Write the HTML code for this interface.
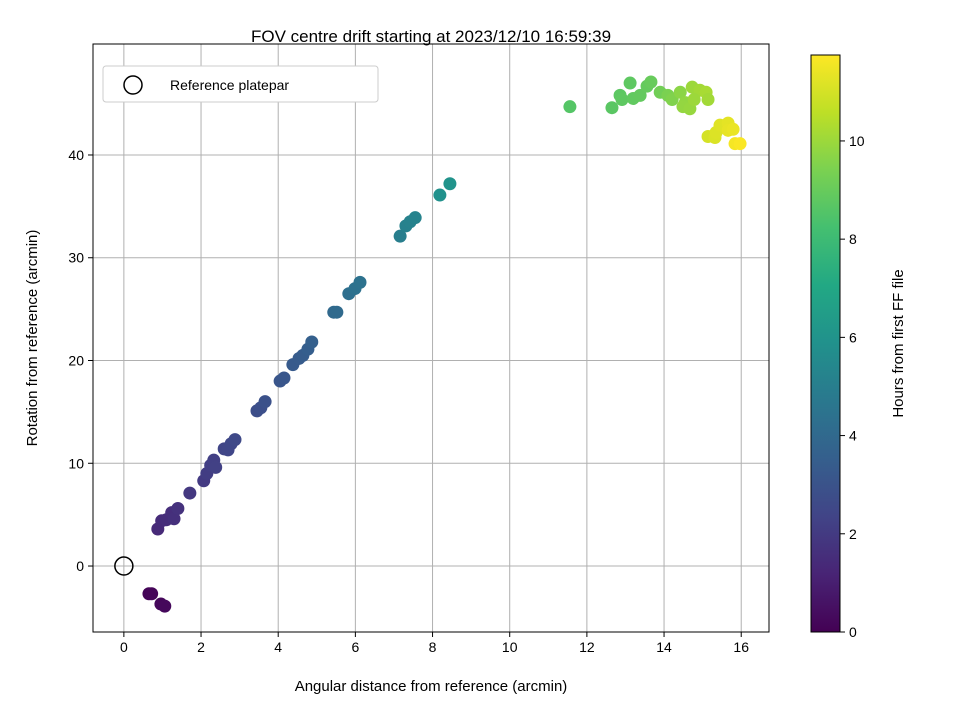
<!DOCTYPE html>
<html><head><meta charset="utf-8"><style>body{margin:0;background:#fff}svg{display:block;font-family:"Liberation Sans",sans-serif}</style></head>
<body>
<svg id="c" width="960" height="720">
<defs><linearGradient id="vir" x1="0" y1="1" x2="0" y2="0">
<stop offset="0" stop-color="#440154"/><stop offset="0.1" stop-color="#482475"/><stop offset="0.2" stop-color="#414487"/><stop offset="0.3" stop-color="#355f8d"/><stop offset="0.4" stop-color="#2a788e"/><stop offset="0.5" stop-color="#21918c"/><stop offset="0.6" stop-color="#22a884"/><stop offset="0.7" stop-color="#44bf70"/><stop offset="0.8" stop-color="#7ad151"/><stop offset="0.9" stop-color="#bddf26"/><stop offset="1" stop-color="#fde725"/></linearGradient></defs>
</svg>
<script>
const xs=[0.65,0.72,0.96,1.06,0.88,0.98,1.1,1.24,1.3,1.4,1.71,2.07,2.15,2.25,2.33,2.38,2.6,2.7,2.78,2.88,3.45,3.55,3.66,4.05,4.15,4.38,4.54,4.64,4.77,4.87,5.44,5.52,5.83,5.99,6.12,7.16,7.31,7.42,7.55,8.19,8.45,11.56,12.65,12.86,13.12,12.91,13.2,13.38,13.56,13.66,13.9,14.1,14.21,14.42,14.55,14.49,14.67,14.73,14.93,15.09,15.14,14.78,15.14,15.32,15.35,15.45,15.66,15.66,15.79,15.84,15.97];
const ys=[-2.7,-2.7,-3.7,-3.9,3.6,4.4,4.5,5.2,4.6,5.6,7.1,8.3,9.0,9.8,10.3,9.6,11.4,11.3,11.9,12.3,15.1,15.4,16.0,18.0,18.3,19.6,20.2,20.5,21.1,21.8,24.7,24.7,26.5,27.0,27.6,32.1,33.1,33.5,33.9,36.1,37.2,44.7,44.6,45.8,47.0,45.4,45.5,45.8,46.7,47.1,46.1,45.8,45.4,46.1,45.1,44.7,44.5,46.6,46.3,46.1,45.4,45.4,41.8,41.7,42.2,42.9,43.1,42.4,42.5,41.1,41.1];
const hrs=[0.1,0.15,0.2,0.25,1.4,1.45,1.5,1.55,1.6,1.7,1.9,2.0,2.1,2.15,2.2,2.25,2.4,2.45,2.5,2.55,2.8,2.85,2.9,3.1,3.15,3.3,3.35,3.4,3.5,3.55,4.0,4.05,4.3,4.35,4.4,5.0,5.1,5.15,5.2,5.9,6.0,8.6,8.7,8.75,8.8,8.8,8.85,8.9,8.95,9.0,9.2,9.4,9.5,9.7,9.8,9.85,9.9,10.0,10.1,10.2,10.1,10.0,11.0,11.1,11.15,11.2,11.3,11.35,11.4,11.6,11.7];
const xTicks=[0,2,4,6,8,10,12,14,16];
const yTicks=[0,10,20,30,40];
const cTicks=[0,2,4,6,8,10];
const svg=document.getElementById('c');const NS='http://www.w3.org/2000/svg';
const L=93,R=769,T=44,B=632,xmin=-0.8,xmax=16.72,ymin=-6.42,ymax=50.8,cmax=11.75,CT=55,CB=632;
const X=v=>L+(v-xmin)/(xmax-xmin)*(R-L), Y=v=>B-(v-ymin)/(ymax-ymin)*(B-T), CY=v=>CB-v/cmax*(CB-CT);
function el(t,a,txt){const e=document.createElementNS(NS,t);for(const k in a)e.setAttribute(k,a[k]);if(txt!=null)e.textContent=txt;svg.appendChild(e);return e;}
const vir=[[68,1,84],[72,36,117],[65,68,135],[53,95,141],[42,120,142],[33,145,140],[34,168,132],[68,191,112],[122,209,81],[189,223,38],[253,231,37]];
function col(h){let t=Math.max(0,Math.min(1,h/cmax))*(vir.length-1);let i=Math.min(vir.length-2,Math.floor(t)),f=t-i;const c=vir[i].map((v,k)=>Math.round(v+(vir[i+1][k]-v)*f));return `rgb(${c})`;}
let g;
xTicks.forEach(v=>{g=el('line',{x1:X(v),x2:X(v),y1:T,y2:B,stroke:'#b0b0b0','stroke-width':1});
g=el('line',{x1:X(v),x2:X(v),y1:B,y2:B+5,stroke:'#000'});
g=el('text',{x:X(v),y:B+20,'text-anchor':'middle','font-size':'14'},v);});
yTicks.forEach(v=>{g=el('line',{x1:L,x2:R,y1:Y(v),y2:Y(v),stroke:'#b0b0b0','stroke-width':1});
g=el('line',{x1:L-5,x2:L,y1:Y(v),y2:Y(v),stroke:'#000'});
g=el('text',{x:L-9,y:Y(v)+5,'text-anchor':'end','font-size':'14'},v);});
xs.forEach((x,i)=>{g=el('circle',{cx:X(x),cy:Y(ys[i]),r:6.5,fill:col(hrs[i])});});
g=el('circle',{cx:X(0),cy:Y(0),r:9,fill:'none',stroke:'#000','stroke-width':1.5});
g=el('rect',{x:L,y:T,width:R-L,height:B-T,fill:'none',stroke:'#000','stroke-width':1});
g=el('rect',{x:103,y:66,width:275,height:36,rx:3,fill:'#fff',stroke:'#ccc'});
g=el('circle',{cx:133,cy:85,r:9,fill:'none',stroke:'#000','stroke-width':1.5});
g=el('text',{x:170,y:90,'font-size':'14'},'Reference platepar');
g=el('text',{x:431,y:42,'text-anchor':'middle','font-size':'17'},'FOV centre drift starting at 2023/12/10 16:59:39');
g=el('text',{x:431,y:691,'text-anchor':'middle','font-size':'15'},'Angular distance from reference (arcmin)');
g=el('text',{x:0,y:0,'text-anchor':'middle','font-size':'15',transform:`translate(37,${(T+B)/2}) rotate(-90)`},'Rotation from reference (arcmin)');
g=el('rect',{x:811,y:CT,width:29,height:CB-CT,fill:'url(#vir)',stroke:'#000','stroke-width':1});
cTicks.forEach(v=>{g=el('line',{x1:840,x2:845,y1:CY(v),y2:CY(v),stroke:'#000'});
g=el('text',{x:849,y:CY(v)+5,'font-size':'14'},v);});
g=el('text',{x:0,y:0,'text-anchor':'middle','font-size':'15',transform:`translate(903,${(CT+CB)/2}) rotate(-90)`},'Hours from first FF file');
</script>
</body></html>
